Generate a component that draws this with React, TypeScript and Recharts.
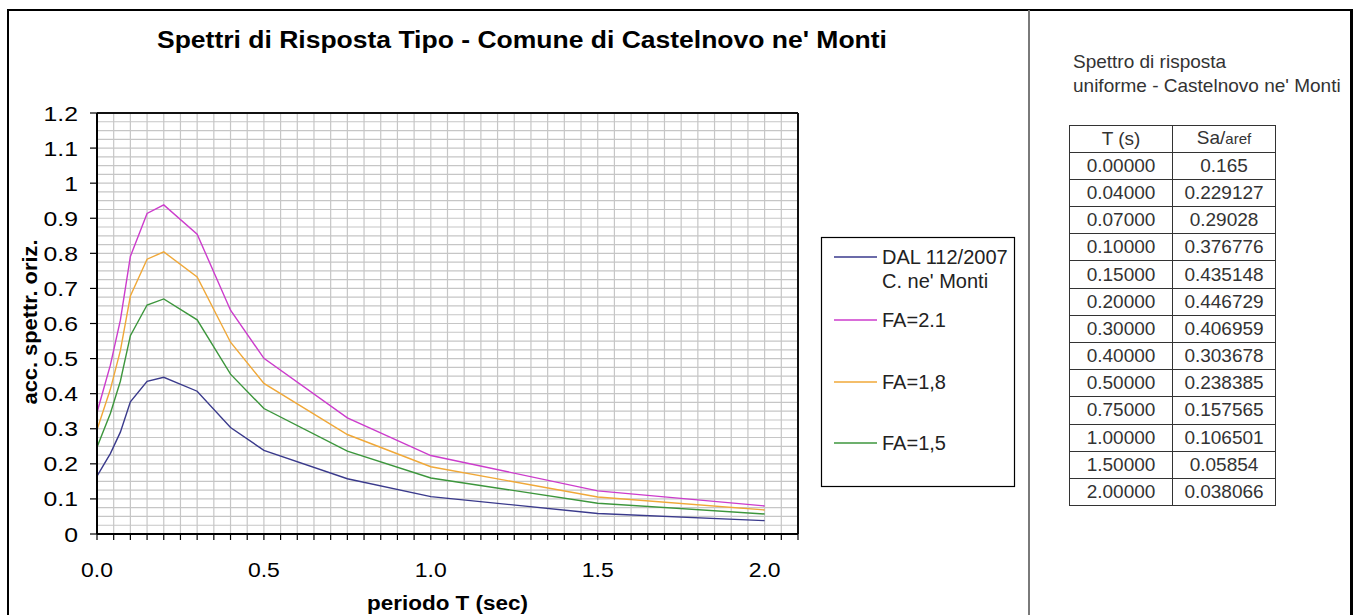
import React from 'react';
import { LineChart, Line, XAxis, YAxis, CartesianGrid, ReferenceLine } from 'recharts';

// ---- data ----
const periods = [0, 0.04, 0.07, 0.1, 0.15, 0.2, 0.3, 0.4, 0.5, 0.75, 1.0, 1.5, 2.0];
const saDal = [0.165, 0.229127, 0.29028, 0.376776, 0.435148, 0.446729, 0.406959, 0.303678, 0.238385, 0.157565, 0.106501, 0.05854, 0.038066];
const saFa21 = [0.3465, 0.48117, 0.60959, 0.79123, 0.91381, 0.93813, 0.85461, 0.63772, 0.50061, 0.33089, 0.22365, 0.12293, 0.07994];
const saFa18 = [0.297, 0.41243, 0.5225, 0.6782, 0.78327, 0.80411, 0.73253, 0.54662, 0.42909, 0.28362, 0.1917, 0.10537, 0.06852];
const saFa15 = [0.2475, 0.34369, 0.43542, 0.56516, 0.65272, 0.67009, 0.61044, 0.45552, 0.35758, 0.23635, 0.15975, 0.08781, 0.0571];

const xTicks = [0, 0.05, 0.1, 0.15, 0.2, 0.25, 0.3, 0.35, 0.4, 0.45, 0.5, 0.55, 0.6, 0.65, 0.7, 0.75, 0.8, 0.85, 0.9, 0.95, 1.0, 1.05, 1.1, 1.15, 1.2, 1.25, 1.3, 1.35, 1.4, 1.45, 1.5, 1.55, 1.6, 1.65, 1.7, 1.75, 1.8, 1.85, 1.9, 1.95, 2.0, 2.05, 2.1];
const xMajorTicks = [0, 0.5, 1.0, 1.5, 2.0];
const yTicks = [0, 0.1, 0.2, 0.3, 0.4, 0.5, 0.6, 0.7, 0.8, 0.9, 1, 1.1, 1.2];
const yLabels = ['0', '0.1', '0.2', '0.3', '0.4', '0.5', '0.6', '0.7', '0.8', '0.9', '1', '1.1', '1.2'];

const seriesKeys = ['dal', 'fa21', 'fa18', 'fa15'];
const seriesNames = [['DAL 112/2007', "C. ne' Monti"], ['FA=2.1'], ['FA=1,8'], ['FA=1,5']];
const seriesColors = ['#3a3a8c', '#cc3ccc', '#f0a838', '#3c963c'];

const title = "Spettri di Risposta Tipo - Comune di Castelnovo ne' Monti";
const xTitle = 'periodo T (sec)';
const yTitle = 'acc. spettr. oriz.';
const panelTitle = ['Spettro di risposta', "uniforme - Castelnovo ne' Monti"];

const chartData = periods.map((t, i) => ({
  T: t,
  dal: saDal[i],
  fa21: saFa21[i],
  fa18: saFa18[i],
  fa15: saFa15[i],
}));

const FONT = '"Liberation Sans", Arial, sans-serif';
const hGrid = Array.from({ length: 49 }, (_, i) => i * 0.025);

const XTick = (props: any) => {
  const { x, y, payload } = props;
  const v = payload.value;
  const isMajor = xMajorTicks.some((m) => Math.abs(m - v) < 1e-6);
  if (!isMajor) return null;
  return (
    <text
      transform={`translate(${x},${y + 37}) scale(1.12,1)`}
      textAnchor="middle"
      fontSize={20.5}
      fontFamily={FONT}
      fill="#000"
    >
      {Number(v).toFixed(1)}
    </text>
  );
};

const YTick = (props: any) => {
  const { x, y, payload } = props;
  const idx = yTicks.findIndex((t) => Math.abs(t - payload.value) < 1e-6);
  const label = idx >= 0 ? yLabels[idx] : String(payload.value);
  return (
    <text
      transform={`translate(${x},${y + 7.5}) scale(1.18,1)`}
      textAnchor="end"
      fontSize={21}
      fontFamily={FONT}
      fill="#000"
    >
      {label}
    </text>
  );
};

const legendRowsY = [[257, 281], [320], [382], [443]];

export default function App() {
  const rowH = 27.2;
  return (
    <div
      style={{
        position: 'absolute',
        left: 0,
        top: 0,
        width: 1357,
        height: 615,
        overflow: 'hidden',
        background: '#fff',
        fontFamily: FONT,
      }}
    >
      {/* outer frame */}
      <div
        style={{
          position: 'absolute',
          left: 7,
          top: 9,
          width: 1341,
          height: 700,
          borderLeft: '2px solid #000',
          borderTop: '2px solid #000',
          borderRight: '3px solid #000',
        }}
      />
      {/* divider */}
      <div style={{ position: 'absolute', left: 1028, top: 10, width: 2, height: 700, background: '#7a7a7a' }} />

      {/* chart */}
      <div style={{ position: 'absolute', left: 0, top: 0 }}>
        <LineChart
          width={1020}
          height={615}
          data={chartData}
          margin={{ top: 113, right: 222, bottom: 51, left: 37 }}
        >
          <CartesianGrid
            stroke="#c6c6c6"
            strokeWidth={1.2}
            horizontalValues={hGrid}
            verticalValues={xTicks}
          />
          <XAxis
            dataKey="T"
            type="number"
            domain={[0, 2.1]}
            ticks={xTicks}
            interval={0}
            height={30}
            tickSize={6}
            tickMargin={0}
            tickLine={{ stroke: '#000', strokeWidth: 1.2 }}
            axisLine={{ stroke: '#000', strokeWidth: 2 }}
            tick={<XTick />}
            allowDataOverflow
          />
          <YAxis
            type="number"
            domain={[0, 1.2]}
            ticks={yTicks}
            interval={0}
            width={60}
            tickSize={7}
            tickMargin={12}
            tickLine={{ stroke: '#000', strokeWidth: 1.2 }}
            axisLine={{ stroke: '#000', strokeWidth: 2 }}
            tick={<YTick />}
            allowDataOverflow
          />
          <ReferenceLine y={1.2} stroke="#111" strokeWidth={2} />
          <ReferenceLine x={2.1} stroke="#111" strokeWidth={2} />
          {seriesKeys.map((k, i) => (
            <Line
              key={k}
              type="linear"
              dataKey={k}
              stroke={seriesColors[i]}
              strokeWidth={1.4}
              dot={false}
              activeDot={false}
              isAnimationActive={false}
            />
          ))}
        </LineChart>
      </div>

      {/* titles & legend */}
      <svg
        width={1357}
        height={615}
        style={{ position: 'absolute', left: 0, top: 0, pointerEvents: 'none' }}
      >
        <text
          x={522}
          y={48}
          textAnchor="middle"
          fontSize={23}
          fontWeight="bold"
          fontFamily={FONT}
          textLength={730}
          lengthAdjust="spacingAndGlyphs"
        >
          {title}
        </text>
        <text
          x={447.5}
          y={610}
          textAnchor="middle"
          fontSize={20}
          fontWeight="bold"
          fontFamily={FONT}
          textLength={161}
          lengthAdjust="spacingAndGlyphs"
        >
          {xTitle}
        </text>
        <text
          transform="translate(37,322) rotate(-90)"
          textAnchor="middle"
          fontSize={19.5}
          fontWeight="bold"
          fontFamily={FONT}
          textLength={165}
          lengthAdjust="spacingAndGlyphs"
        >
          {yTitle}
        </text>

        {/* legend */}
        <rect x={821.5} y={237.5} width={193} height={249} fill="#fff" stroke="#000" strokeWidth={1.2} />
        {seriesKeys.map((k, i) => (
          <g key={k}>
            <line
              x1={834}
              x2={877}
              y1={legendRowsY[i][0]}
              y2={legendRowsY[i][0]}
              stroke={seriesColors[i]}
              strokeWidth={1.5}
            />
            {seriesNames[i].map((n, j) => (
              <text
                key={j}
                x={882}
                y={legendRowsY[i][j] + 7}
                fontSize={20}
                fontFamily={FONT}
                fill="#222"
              >
                {n}
              </text>
            ))}
          </g>
        ))}
      </svg>

      {/* right panel */}
      <div
        style={{
          position: 'absolute',
          left: 1073,
          top: 50,
          fontSize: 19,
          lineHeight: '24px',
          color: '#333',
          whiteSpace: 'nowrap',
        }}
      >
        <div>{panelTitle[0]}</div>
        <div>{panelTitle[1]}</div>
      </div>
      <table
        style={{
          position: 'absolute',
          left: 1069,
          top: 124.5,
          borderCollapse: 'collapse',
          fontSize: 19,
          color: '#333',
          fontFamily: FONT,
        }}
      >
        <tbody>
          <tr style={{ height: rowH }}>
            <td style={{ border: '1px solid #333', width: 102, padding: 0, textAlign: 'center', lineHeight: '20px' }}>T (s)</td>
            <td style={{ border: '1px solid #333', width: 102, padding: 0, textAlign: 'center', lineHeight: '20px' }}>
              Sa/<span style={{ fontSize: 15 }}>aref</span>
            </td>
          </tr>
          {periods.map((t, i) => (
            <tr key={i} style={{ height: rowH }}>
              <td style={{ border: '1px solid #333', padding: 0, textAlign: 'center', lineHeight: '20px' }}>{t.toFixed(5)}</td>
              <td style={{ border: '1px solid #333', padding: 0, textAlign: 'center', lineHeight: '20px' }}>{String(saDal[i])}</td>
            </tr>
          ))}
        </tbody>
      </table>
    </div>
  );
}
